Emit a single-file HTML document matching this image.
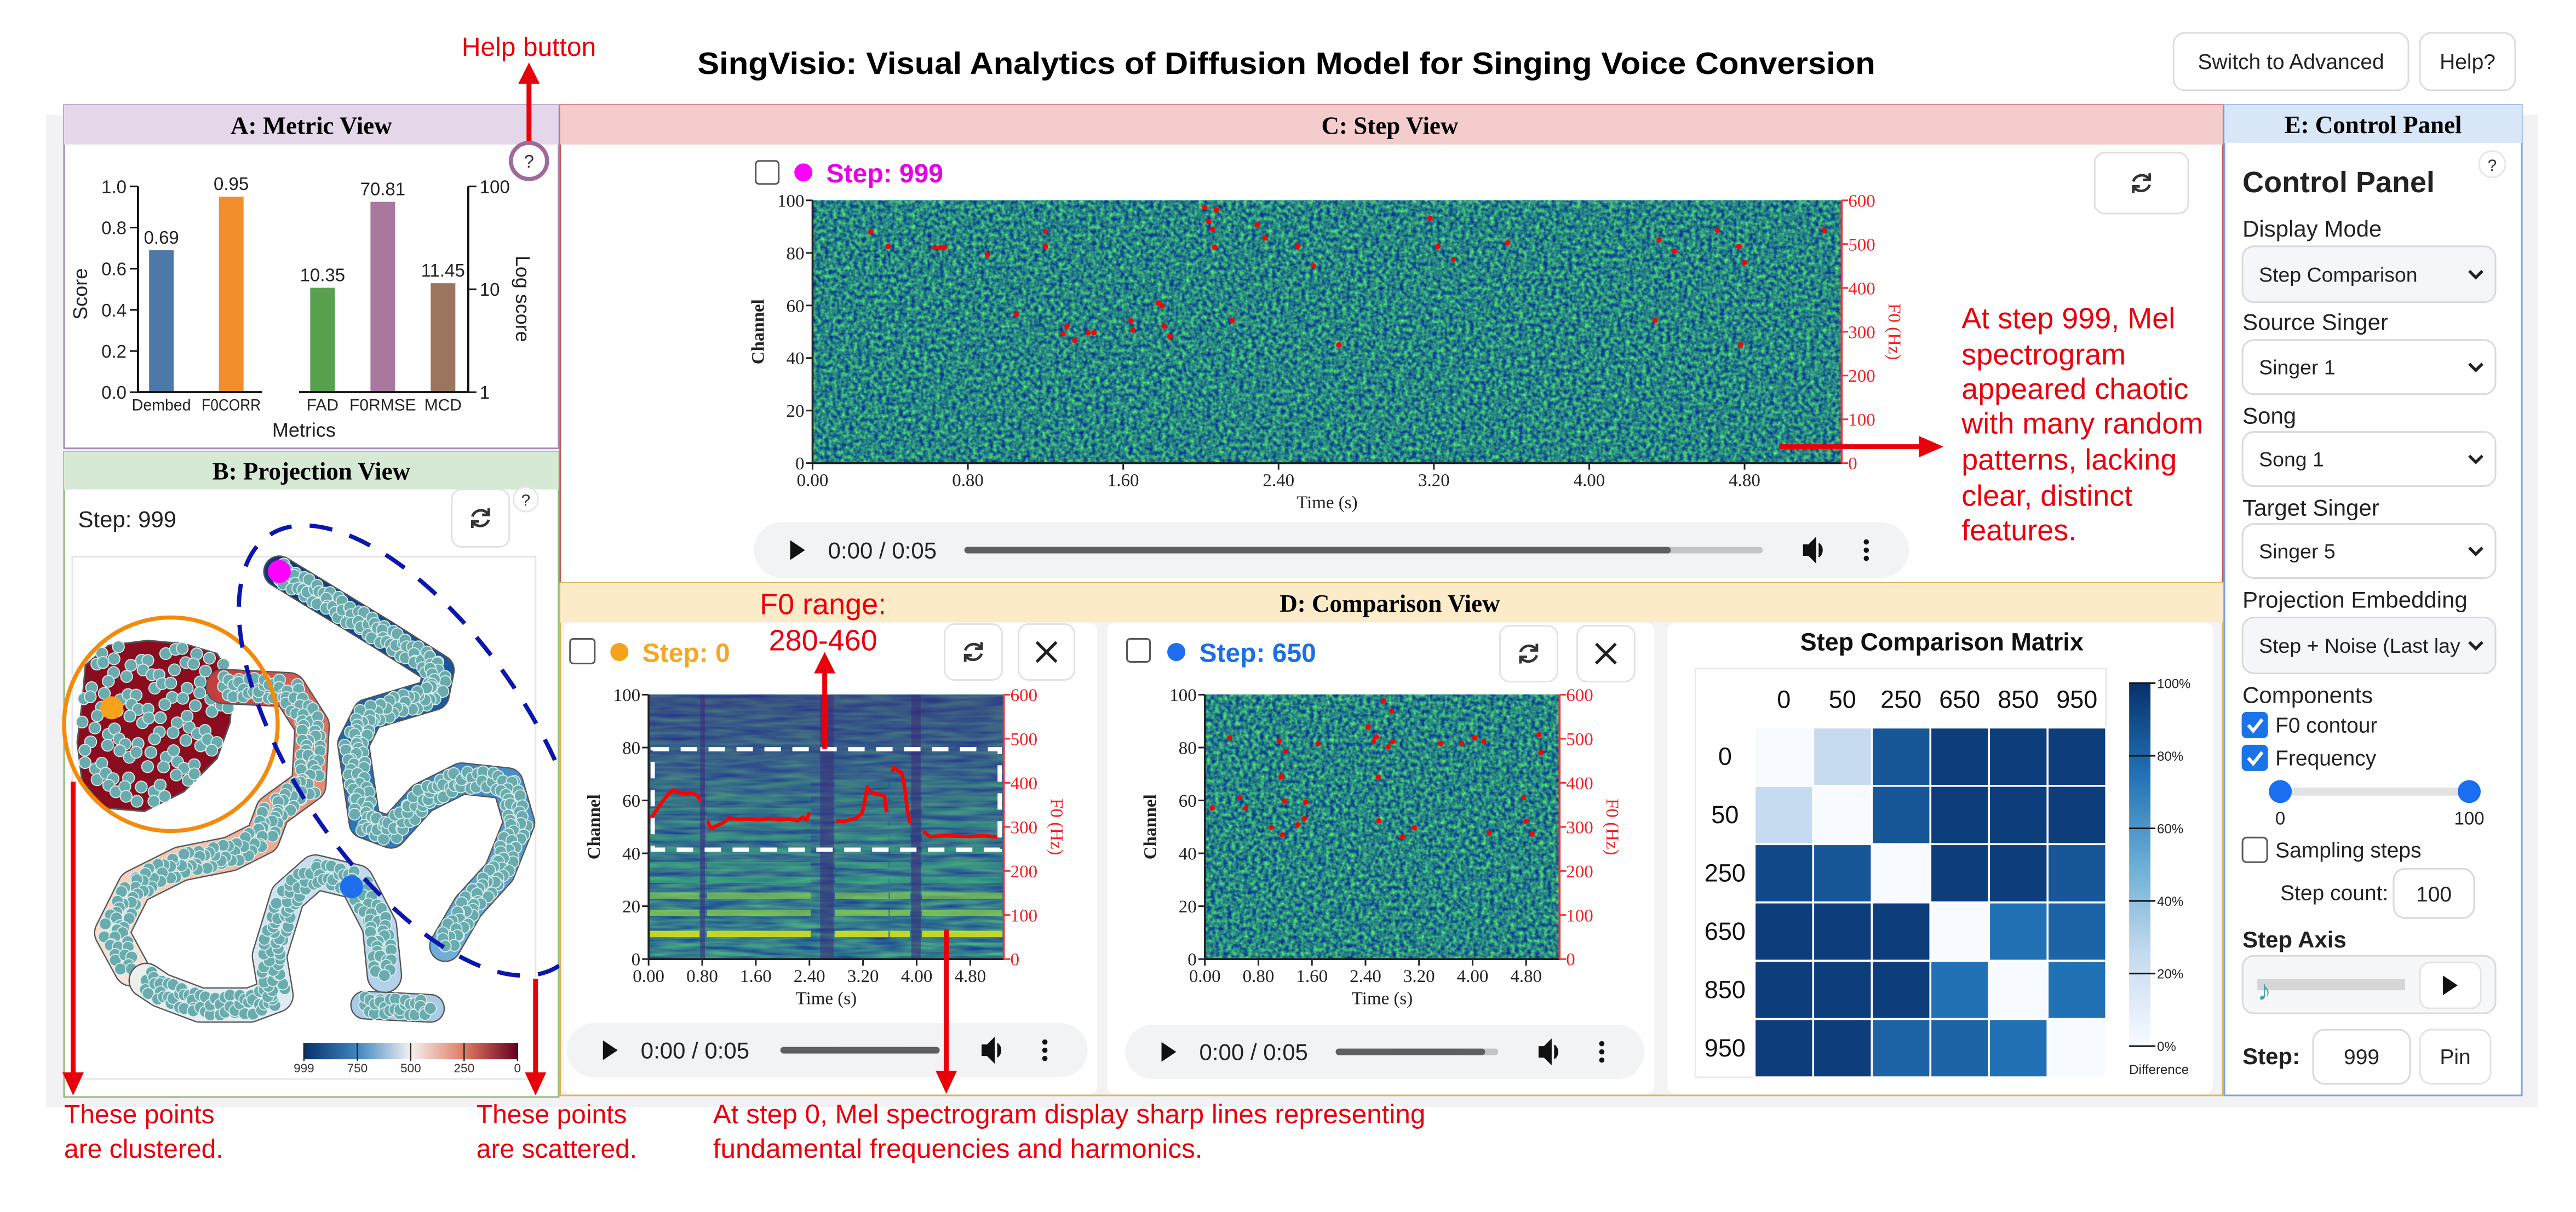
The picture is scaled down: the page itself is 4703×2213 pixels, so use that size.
<!DOCTYPE html>
<html><head><meta charset="utf-8"><title>SingVisio</title>
<style>
html,body{margin:0;padding:0;background:#fff;}
svg{display:block;}
text{font-family:"Liberation Sans",Arial,sans-serif;}
.serif{font-family:"Liberation Serif","Times New Roman",serif;}
</style></head>
<body>
<svg id="root" xmlns="http://www.w3.org/2000/svg" width="4703" height="2213" viewBox="0 0 1568 738" preserveAspectRatio="none">
<defs>
<filter id="noise" x="0" y="0" width="1" height="1" color-interpolation-filters="sRGB">
<feTurbulence type="fractalNoise" baseFrequency="0.4" numOctaves="2" seed="3" result="t"/>
<feColorMatrix in="t" type="matrix" values="0.55 0 0 0 -0.12  1.15 0 0 0 -0.05  -0.25 0 0 0 0.64  0 0 0 0 1"/>
</filter>
<filter id="noise3" x="0" y="0" width="1" height="1" color-interpolation-filters="sRGB">
<feTurbulence type="fractalNoise" baseFrequency="0.04 0.35" numOctaves="2" seed="5" result="t"/>
<feColorMatrix in="t" type="matrix" values="0.35 0 0 0 0.02  0.7 0 0 0 0.15  -0.1 0 0 0 0.6  0 0 0 0 1"/>
</filter>
<linearGradient id="projbar" x1="0" x2="1" y1="0" y2="0">
<stop offset="0" stop-color="#08306b"/><stop offset="0.25" stop-color="#3f86c0"/><stop offset="0.5" stop-color="#f3f1f0"/><stop offset="0.75" stop-color="#e07b62"/><stop offset="1" stop-color="#67001f"/>
</linearGradient>
<linearGradient id="matbar" x1="0" x2="0" y1="1" y2="0">
<stop offset="0" stop-color="#f7fbff"/><stop offset="0.25" stop-color="#c6dbef"/><stop offset="0.5" stop-color="#6baed6"/><stop offset="0.75" stop-color="#2171b5"/><stop offset="1" stop-color="#08306b"/>
</linearGradient>
<linearGradient id="topshade" x1="0" x2="0" y1="0" y2="1">
<stop offset="0" stop-color="#3d2c7a" stop-opacity="0.55"/><stop offset="0.5" stop-color="#3d3f8a" stop-opacity="0.3"/><stop offset="1" stop-color="#3d3f8a" stop-opacity="0.05"/>
</linearGradient>
</defs>

<rect x="28" y="70" width="1517" height="604" fill="#f2f2f5"/>

<text x="783" y="45" text-anchor="middle" font-size="19" font-weight="bold" textLength="717" lengthAdjust="spacingAndGlyphs">SingVisio: Visual Analytics of Diffusion Model for Singing Voice Conversion</text>

<g>
<rect x="1323" y="20" width="143" height="35" rx="7" fill="#fff" stroke="#dcdcdc"/>
<text x="1394.5" y="42" text-anchor="middle" font-size="13" fill="#222">Switch to Advanced</text>
</g>
<g>
<rect x="1473" y="20" width="58" height="35" rx="7" fill="#fff" stroke="#dcdcdc"/>
<text x="1502" y="42" text-anchor="middle" font-size="13" fill="#222">Help?</text>
</g>

<g>
<rect x="39" y="64" width="301" height="209" fill="#fff" stroke="#a38bb6"/>
<rect x="39" y="64" width="301" height="24" fill="#e4d7ea"/>
<text class="serif" x="189.5" y="81.5" text-anchor="middle" font-size="15" font-weight="bold">A: Metric View</text>
</g>
<g id="metricChart"></g>

<g>
<rect x="39" y="275" width="301" height="393" fill="#fff" stroke="#93b87f"/>
<rect x="39" y="275" width="301" height="23" fill="#d6e9d4"/>
<text class="serif" x="189.5" y="292" text-anchor="middle" font-size="15" font-weight="bold">B: Projection View</text>
<text x="47.5" y="321" font-size="14" fill="#222">Step: 999</text>
<rect x="44" y="339" width="282" height="318" fill="#fff" stroke="#e6e6e6"/>
</g>
<g>
<rect x="275" y="298" width="35" height="35" rx="6" fill="#fff" stroke="#e2e2e2"/>
<g transform="translate(292.5,315.5)" fill="none" stroke="#333" stroke-width="1.6"><path d="M-5,-1 A5.5,5.5 0 0 1 5,-2"/><path d="M5,1 A5.5,5.5 0 0 1 -5,2"/><path d="M5,-6 L5,-2 L1,-2"/><path d="M-5,6 L-5,2 L-1,2"/></g>
</g>
<g><circle cx="320" cy="304" r="7.5" fill="#fff" stroke="#e6e6e6"/><text x="320" y="308" text-anchor="middle" font-size="10" fill="#333">?</text></g>
<g id="projection"></g>

<g>
<rect x="341" y="64" width="1012" height="291" fill="#fff" stroke="#c45b5b"/>
<rect x="341" y="64" width="1012" height="24" fill="#f5cccc"/>
<text class="serif" x="846" y="81.5" text-anchor="middle" font-size="15" font-weight="bold">C: Step View</text>
</g>
<rect x="460" y="98" width="14" height="14" rx="2" fill="#fff" stroke="#555"/>
<circle cx="489" cy="105" r="5.5" fill="#f0f"/>
<text x="503" y="111" font-size="16" font-weight="bold" fill="#e600e6">Step: 999</text>
<g>
<rect x="1275" y="93" width="57" height="37" rx="6" fill="#fff" stroke="#dedede"/>
<g transform="translate(1303.5,111.5)" fill="none" stroke="#333" stroke-width="1.6"><path d="M-5,-1 A5.5,5.5 0 0 1 5,-2"/><path d="M5,1 A5.5,5.5 0 0 1 -5,2"/><path d="M5,-6 L5,-2 L1,-2"/><path d="M-5,6 L-5,2 L-1,2"/></g>
</g>
<g id="specC"></g>
<g id="audioC"></g>

<g>
<rect x="341" y="355" width="1012" height="312" fill="#f3f3f6" stroke="#d6b85a"/>
<rect x="341" y="355" width="1012" height="24" fill="#fcebc9"/>
<text class="serif" x="846" y="372.5" text-anchor="middle" font-size="15" font-weight="bold">D: Comparison View</text>
<rect x="343" y="379" width="325" height="287" rx="5" fill="#fff"/>
<rect x="674" y="379" width="333" height="287" rx="5" fill="#fff"/>
<rect x="1015" y="379" width="332" height="287" rx="5" fill="#fff"/>
</g>
<rect x="347" y="389" width="15" height="15" rx="2" fill="#fff" stroke="#555"/>
<circle cx="377" cy="397" r="5.5" fill="#f5a21b"/>
<text x="391" y="403" font-size="16" font-weight="bold" fill="#f5a623">Step: 0</text>
<g>
<rect x="575" y="380" width="35" height="34" rx="6" fill="#fff" stroke="#e2e2e2"/>
<g transform="translate(592.5,397)" fill="none" stroke="#333" stroke-width="1.6"><path d="M-5,-1 A5.5,5.5 0 0 1 5,-2"/><path d="M5,1 A5.5,5.5 0 0 1 -5,2"/><path d="M5,-6 L5,-2 L1,-2"/><path d="M-5,6 L-5,2 L-1,2"/></g>
</g>
<g>
<rect x="620" y="380" width="34" height="34" rx="6" fill="#fff" stroke="#e2e2e2"/>
<path d="M631,391 L643,403 M643,391 L631,403" stroke="#222" stroke-width="1.8"/>
</g>
<rect x="686" y="389" width="14" height="14" rx="2" fill="#fff" stroke="#555"/>
<circle cx="716" cy="397" r="5.5" fill="#1e6ff0"/>
<text x="730" y="403" font-size="16" font-weight="bold" fill="#1a6fe8">Step: 650</text>
<g>
<rect x="913" y="381" width="35" height="34" rx="6" fill="#fff" stroke="#e2e2e2"/>
<g transform="translate(930.5,398)" fill="none" stroke="#333" stroke-width="1.6"><path d="M-5,-1 A5.5,5.5 0 0 1 5,-2"/><path d="M5,1 A5.5,5.5 0 0 1 -5,2"/><path d="M5,-6 L5,-2 L1,-2"/><path d="M-5,6 L-5,2 L-1,2"/></g>
</g>
<g>
<rect x="960" y="381" width="35" height="34" rx="6" fill="#fff" stroke="#e2e2e2"/>
<path d="M971.5,392 L983.5,404 M983.5,392 L971.5,404" stroke="#222" stroke-width="1.8"/>
</g>
<g id="specD1"></g>
<g id="specD2"></g>
<g id="audioD1"></g><g id="audioD2"></g>
<text x="1182" y="396" text-anchor="middle" font-size="15" font-weight="bold" fill="#111">Step Comparison Matrix</text>
<g id="matrix"></g>

<g>
<rect x="1354" y="64" width="181" height="603" fill="#fff" stroke="#7ea3d6"/>
<rect x="1354" y="64" width="181" height="23" fill="#d8e7f8"/>
<text class="serif" x="1444.5" y="81" text-anchor="middle" font-size="15" font-weight="bold">E: Control Panel</text>
<text x="1365" y="117" font-size="18" font-weight="bold" fill="#222">Control Panel</text>
</g>
<g><circle cx="1517" cy="100" r="8" fill="#fff" stroke="#e6e6e6"/><text x="1517" y="104" text-anchor="middle" font-size="10" fill="#333">?</text></g>
<g id="controls"></g>

<g fill="#e8000b">
<text x="281" y="34" font-size="16">Help button</text>
<circle cx="322" cy="98" r="11" fill="none" stroke="#a0699a" stroke-width="2.5"/>
<text x="322" y="102" text-anchor="middle" font-size="11" fill="#333">?</text>
<line x1="322" y1="86" x2="322" y2="48" stroke="#e8000b" stroke-width="3"/>
<polygon points="315.5,51 328.5,51 322,38"/>
<text x="1194" y="200" font-size="18"><tspan x="1194" y="200">At step 999, Mel</tspan><tspan x="1194" y="222">spectrogram</tspan><tspan x="1194" y="243">appeared chaotic</tspan><tspan x="1194" y="264">with many random</tspan><tspan x="1194" y="286">patterns, lacking</tspan><tspan x="1194" y="308">clear, distinct</tspan><tspan x="1194" y="329">features.</tspan></text>
<line x1="1083" y1="272" x2="1170" y2="272" stroke="#e8000b" stroke-width="3"/>
<polygon points="1168,265.5 1168,278.5 1183,272"/>
<text x="501" y="374" text-anchor="middle" font-size="18"><tspan x="501" y="374">F0 range:</tspan><tspan x="501" y="396">280-460</tspan></text>
<line x1="502" y1="456" x2="502" y2="408" stroke="#e8000b" stroke-width="3"/>
<polygon points="495.5,410 508.5,410 502,397"/>
<line x1="576" y1="566" x2="576" y2="654" stroke="#e8000b" stroke-width="3"/>
<polygon points="569.5,652 582.5,652 576,666"/>
<line x1="44.5" y1="476" x2="44.5" y2="655" stroke="#e8000b" stroke-width="3"/>
<polygon points="38,653 51,653 44.5,667"/>
<line x1="326" y1="596" x2="326" y2="655" stroke="#e8000b" stroke-width="3"/>
<polygon points="319.5,653 332.5,653 326,667"/>
<text font-size="16"><tspan x="39" y="684">These points</tspan><tspan x="39" y="705">are clustered.</tspan></text>
<text font-size="16"><tspan x="290" y="684">These points</tspan><tspan x="290" y="705">are scattered.</tspan></text>
<text font-size="16.5"><tspan x="434" y="684">At step 0, Mel spectrogram display sharp lines representing</tspan><tspan x="434" y="705">fundamental frequencies and harmonics.</tspan></text>
</g>
</svg>

<script>
const NS='http://www.w3.org/2000/svg';
function mk(tag,attrs,parent){const e=document.createElementNS(NS,tag);for(const k in attrs)e.setAttribute(k,attrs[k]);if(parent)parent.appendChild(e);return e;}
function txt(s,attrs,parent){const e=mk('text',attrs,parent);e.textContent=s;return e;}

const metricLeftCats=['Dembed','F0CORR'];
const metricLeftVals=[0.69,0.95];
const metricRightCats=['FAD','F0RMSE','MCD'];
const metricRightVals=[10.35,70.81,11.45];
const metricLeftTicks=[0,0.2,0.4,0.6,0.8,1.0];
const metricRightTicks=[1,10,100];

const specTimeTicks=[0,0.8,1.6,2.4,3.2,4.0,4.8];
const specChannelTicks=[0,20,40,60,80,100];
const specHzTicks=[0,100,200,300,400,500,600];
const f0Step999T=[0.30,0.39,0.63,0.66,0.68,0.90,1.05,1.20,1.20,1.29,1.31,1.35,1.42,1.45,1.64,1.65,1.78,1.80,1.81,1.84,2.02,2.04,2.06,2.07,2.08,2.16,2.29,2.33,2.50,2.58,2.71,3.18,3.22,3.30,3.58,4.34,4.36,4.44,4.66,4.77,4.78,4.80,5.21];
const f0Step999Hz=[528,495,492,492,492,476,340,529,495,295,312,280,298,298,325,304,366,359,313,289,584,552,534,493,578,326,544,514,495,450,270,559,495,465,503,326,510,484,532,495,270,458,532];
const f0Step650T=[0.11,0.37,0.52,0.61,0.99,1.11,1.14,1.16,1.19,1.21,1.39,1.49,1.51,1.69,2.44,2.52,2.56,2.59,2.60,2.67,2.74,2.79,2.81,2.95,3.13,3.52,3.84,4.03,4.17,4.25,4.76,4.80,4.89,4.99,5.02];
const f0Step650Hz=[343,502,366,343,299,495,414,282,359,471,305,319,356,489,527,493,504,413,314,586,482,563,494,277,298,489,489,502,493,286,366,313,284,509,469];
const f0Step0SegA_T=[0.03,0.08,0.15,0.22,0.30,0.37,0.45,0.55,0.65,0.72,0.78];
const f0Step0SegA_Hz=[317,330,345,360,375,384,378,375,376,372,359];
const f0Step0SegB_T=[0.88,0.93,0.98,1.05,1.12,1.20,1.35,1.50,1.65,1.80,1.95,2.10,2.22,2.30,2.36,2.40];
const f0Step0SegB_Hz=[314,296,300,305,310,320,317,318,316,319,316,318,314,322,316,333];
const f0Step0SegC_T=[2.80,2.90,3.00,3.10,3.18,3.22,3.26,3.32,3.40,3.46,3.52,3.55];
const f0Step0SegC_Hz=[314,312,316,320,330,352,390,378,375,373,371,333];
const f0Step0SegD_T=[3.63,3.66,3.72,3.78,3.82,3.86,3.90];
const f0Step0SegD_Hz=[425,435,428,422,390,340,308];
const f0Step0SegE_T=[4.10,4.20,4.40,4.60,4.80,5.00,5.20];
const f0Step0SegE_Hz=[289,278,280,279,278,280,277];
const harmonicChannels=[9.5,17.5,24,30,35.5,41,46,51,56,61,66];
const harmonicStrength=[0.9,0.7,0.6,0.5,0.45,0.4,0.35,0.3,0.28,0.25,0.2];
const voicedStart=[0.02,0.87,2.78,3.60,4.08];
const voicedEnd=[0.76,2.42,3.58,3.90,5.28];
const unvoicedStart=[0.77,2.56,3.92];
const unvoicedEnd=[0.84,2.76,4.06];

const matrixSteps=['0','50','250','650','850','950'];
const matrixRow0=[0,25,85,95,95,95];
const matrixRow50=[25,0,85,95,95,95];
const matrixRow250=[90,85,0,95,95,85];
const matrixRow650=[95,95,95,0,75,80];
const matrixRow850=[95,95,95,75,0,75];
const matrixRow950=[95,95,80,80,75,0];
const matrixTicks=[0,20,40,60,80,100];

(function(){
 const g=document.getElementById('metricChart');
 const y0=238.8,y1=113.5;
 const yL=v=>y0-(y0-y1)*v;
 const yR=v=>y0-(y0-y1)*Math.log10(v)/2;
 const bandL=i=>77+(162-77)/metricLeftCats.length*(i+0.5);
 const bandR=i=>178+(288-178)/metricRightCats.length*(i+0.5);
 const colL=['#4e79a7','#f28e2b'];
 const colR=['#59a14f','#a8789f','#9c755f'];
 const bw=15;
 metricLeftVals.forEach((v,i)=>{
  const r=mk('rect',{x:bandL(i)-bw/2,y:yL(v),width:bw,height:y0-yL(v),fill:colL[i]},g);
  
  
  const t=txt(v.toFixed(2),{x:bandL(i),y:yL(v)-4,'text-anchor':'middle','font-size':11,fill:'#222'},g);
  
  
  const c=txt(metricLeftCats[i],{x:bandL(i),y:250,'text-anchor':'middle','font-size':10,fill:'#222',textLength:36,lengthAdjust:'spacingAndGlyphs'},g);
  
  
 });
 metricRightVals.forEach((v,i)=>{
  const r=mk('rect',{x:bandR(i)-bw/2,y:yR(v),width:bw,height:y0-yR(v),fill:colR[i]},g);
  
  
  const t=txt(v.toFixed(2),{x:bandR(i),y:yR(v)-4,'text-anchor':'middle','font-size':11,fill:'#222'},g);
  
  
  const c=txt(metricRightCats[i],{x:bandR(i),y:250,'text-anchor':'middle','font-size':10,fill:'#222'},g);
  
  
 });
 const ax=mk('path',{d:`M84,${y1} L84,${y0} L159.5,${y0} M182,${y0} L285,${y0} L285,${y1}`,fill:'none',stroke:'#111','stroke-width':1.3},g);
 
 
 metricLeftTicks.forEach(v=>{
  mk('line',{x1:79,x2:84,y1:yL(v),y2:yL(v),stroke:'#111'},g);
  const t=txt(v.toFixed(1),{x:77,y:yL(v)+4,'text-anchor':'end','font-size':11,fill:'#222'},g);
  
  
 });
 metricRightTicks.forEach(v=>{
  mk('line',{x1:285,x2:290,y1:yR(v),y2:yR(v),stroke:'#111'},g);
  const t=txt(String(v),{x:292,y:yR(v)+4,'font-size':11,fill:'#222'},g);
  
  
 });
 const s=txt('Score',{x:0,y:0,'text-anchor':'middle','font-size':12,fill:'#222',transform:'translate(53,179) rotate(-90)'},g);
 
 
 const l=txt('Log score',{x:0,y:0,'text-anchor':'middle','font-size':12,fill:'#222',transform:'translate(314,182) rotate(90)'},g);
 
 
 const m=txt('Metrics',{x:185,y:266,'text-anchor':'middle','font-size':12,fill:'#222'},g);
 
 
})();

(function(){
 const g=document.getElementById('projection');
 function lerpC(a,b,t){const pa=[1,3,5].map(i=>parseInt(a.substr(i,2),16)),pb=[1,3,5].map(i=>parseInt(b.substr(i,2),16));return 'rgb('+pa.map((v,i)=>Math.round(v+(pb[i]-v)*t)).join(',')+')';}
 function colAt(cols,t){const n=cols.length-1;const i=Math.min(n-1,Math.floor(t*n));return lerpC(cols[i],cols[i+1],t*n-i);}
 function pt(sg,x,y){
  const c=mk('circle',{cx:x,cy:y,r:3.6,fill:'#6aabad',stroke:'#d9eeee','stroke-width':0.6},sg);
  
  
 }
 function snake(pts,cols,w,name){
  const sg=mk('g',{},g);
  
  
  const d='M'+pts.map(p=>p.join(',')).join(' L');
  mk('path',{d:d,fill:'none',stroke:'#555','stroke-width':w+1.6,'stroke-linecap':'round','stroke-linejoin':'round'},sg);
  let samples=[];
  for(let i=0;i<pts.length-1;i++){const [x0,y0]=pts[i],[x1,y1]=pts[i+1];const L=Math.hypot(x1-x0,y1-y0);const n=Math.max(1,Math.round(L/3));for(let k=0;k<n;k++){samples.push([x0+(x1-x0)*k/n,y0+(y1-y0)*k/n,(y1-y0)/L,-(x1-x0)/L]);}}
  samples.push([...pts[pts.length-1],0,0]);
  for(let i=0;i<samples.length-1;i++){const t=i/(samples.length-1);
   mk('line',{x1:samples[i][0],y1:samples[i][1],x2:samples[i+1][0],y2:samples[i+1][1],stroke:colAt(cols,t),'stroke-width':w,'stroke-linecap':'round'},sg);}
  samples.forEach((s,k)=>{for(let j=0;j<2;j++){const off=w*0.3*Math.sin(k*2.399+j*1.7);pt(sg,s[0]+s[2]*off,s[1]+s[3]*off);}});
 }
 // dark red filled blob
 const blobPts=[[52,405],[66,393],[90,390],[112,392],[132,398],[142,414],[140,440],[132,462],[112,482],[88,494],[64,492],[50,476],[47,452],[50,428]];
 const bg=mk('g',{},g);
 
 
 mk('path',{d:'M'+blobPts.map(p=>p.join(',')).join(' L')+'Z',fill:'#8a0c1e',stroke:'#555','stroke-width':1,'stroke-linejoin':'round'},bg);
 function inside(x,y){let c=false;for(let i=0,j=blobPts.length-1;i<blobPts.length;j=i++){const [xi,yi]=blobPts[i],[xj,yj]=blobPts[j];if(((yi>y)!=(yj>y))&&(x<(xj-xi)*(y-yi)/(yj-yi)+xi))c=!c;}return c;}
 let k=0;
 for(let y=396;y<492;y+=7){for(let x=50;x<142;x+=7){k++;const jx=x+2.2*Math.sin(k*1.7),jy=y+2.2*Math.cos(k*2.3);if(inside(jx,jy)&&Math.sin(k*0.77)>-0.6)pt(bg,jx,jy);}}
 snake([[136,418],[176,420],[190,442],[188,478],[166,494],[160,510],[140,520],[110,526],[82,540],[68,568],[80,590]],['#c23d3f','#e5846b','#f6c2ab','#f8e4da'],20,'cluster-mid-steps-region');
 snake([[89,597],[98,603],[122,612],[152,612],[168,606],[164,582],[175,546],[192,531],[217,537],[231,564],[234,594]],['#eeeeee','#e2ebf3','#c9ddee','#b2d1e9'],20,'cluster-step-650-region');
 snake([[222,612],[262,614]],['#a9cbe6','#a9cbe6'],16,'cluster-small-region');
 snake([[170,348],[234,387],[267,408],[264,423],[224,435],[215,453],[222,501],[238,507],[257,486],[281,474],[309,477],[316,501],[304,531],[285,552],[271,576]],['#0b3a74','#1d5fa5','#3a84c2','#70afd9'],18,'cluster-step-999-region');
 const add=(tag,a,name,inter)=>{const e=mk(tag,a,g);return e;};
 add('circle',{cx:104,cy:441,r:65,fill:'none',stroke:'#f58a0a','stroke-width':2.5},'clustered-highlight-circle','false');
 add('ellipse',{cx:252,cy:457,rx:158,ry:72,transform:'rotate(56 252 457)',fill:'none',stroke:'#0b16b0','stroke-width':2.6,'stroke-dasharray':'14 11'},'scattered-highlight-ellipse','false');
 add('circle',{cx:68,cy:431,r:7,fill:'#f7a21b'},'step-0-marker','false');
 add('circle',{cx:170,cy:348,r:7,fill:'#f0f'},'step-999-marker','false');
 add('circle',{cx:214,cy:540,r:7,fill:'#1e6ff0'},'step-650-marker','false');
 add('rect',{x:185,y:635,width:130,height:10,fill:'url(#projbar)'},'projection-colorbar','false');
 const cbLabels=['999','750','500','250','0'];
 cbLabels.forEach((s,i)=>{const x=185+130*i/4;
  mk('line',{x1:x,x2:x,y1:635,y2:646,stroke:'#222','stroke-width':0.8},g);
  const t=txt(s,{x:x,y:653,'text-anchor':'middle','font-size':7.5,fill:'#333'},g);
  
  });
})();

function spectro(id,x0,x1,y0,y1,filterId,opts){
 const g=document.getElementById(id);
 const X=t=>x0+(x1-x0)*t/5.3;
 const YC=c=>y1-(y1-y0)*c/100;
 const YH=h=>y1-(y1-y0)*h/600;
 const bg=mk('rect',{x:x0,y:y0,width:x1-x0,height:y1-y0,filter:'url(#'+filterId+')'},g);
 
 
 if(opts.harmonic){
  mk('rect',{x:x0,y:y0,width:x1-x0,height:y1-y0,fill:'url(#topshade)'},g);
  voicedStart.forEach((ts,i)=>{
   harmonicChannels.forEach((c,j)=>{
    const col=j===0?'#d0e11c':(j<3?'#8fd744':'#3cbb75');
    const r=mk('rect',{x:X(ts),y:YC(c+1.2),width:X(voicedEnd[i])-X(ts),height:(y1-y0)*2.4/100,fill:col,opacity:harmonicStrength[j]},g);
    
    
   });
  });
  unvoicedStart.forEach((ts,i)=>{
   const r=mk('rect',{x:X(ts),y:y0,width:X(unvoicedEnd[i])-X(ts),height:y1-y0,fill:'#3a2a78',opacity:0.55},g);
   
   
  });
 }
 if(opts.lines){
  opts.lines.forEach(([T,H])=>{
   const p=mk('polyline',{points:T.map((t,i)=>X(t)+','+YH(H[i])).join(' '),fill:'none',stroke:'#f00','stroke-width':2.2,'stroke-linejoin':'round'},g);
   
   
  });
 }
 if(opts.dots){
  opts.dots[0].forEach((t,i)=>{
   const c=mk('circle',{cx:X(t),cy:YH(opts.dots[1][i]),r:1.6,fill:'#f00'},g);
   
   
  });
 }
 if(opts.box){
  const b=mk('rect',{x:x0+2.5,y:YC(80)+1,width:x1-x0-5,height:YC(42)-YC(80),fill:'none',stroke:'#fff','stroke-width':2.6,'stroke-dasharray':'10 7'},g);
  
  
 }
 const fs=opts.fs;
 mk('line',{x1:x0,x2:x0,y1:y0,y2:y1,stroke:'#222','stroke-width':1.2},g);
 mk('line',{x1:x0,x2:x1,y1:y1,y2:y1,stroke:'#222','stroke-width':1.2},g);
 mk('line',{x1:x1,x2:x1,y1:y0,y2:y1,stroke:'#e33','stroke-width':1.2},g);
 specTimeTicks.forEach(t=>{
  mk('line',{x1:X(t),x2:X(t),y1:y1,y2:y1+4,stroke:'#222'},g);
  const l=txt(t.toFixed(2),{x:X(t),y:y1+fs+3,'text-anchor':'middle','font-size':fs,fill:'#222',class:'serif'},g);
  
  
 });
 specChannelTicks.forEach(c=>{
  mk('line',{x1:x0-4,x2:x0,y1:YC(c),y2:YC(c),stroke:'#222'},g);
  const l=txt(String(c),{x:x0-5,y:YC(c)+fs*0.35,'text-anchor':'end','font-size':fs,fill:'#222',class:'serif'},g);
  
  
 });
 specHzTicks.forEach(h=>{
  mk('line',{x1:x1,x2:x1+4,y1:YH(h),y2:YH(h),stroke:'#e33'},g);
  const l=txt(String(h),{x:x1+4,y:YH(h)+fs*0.35,'font-size':fs,fill:'#e22',class:'serif'},g);
  
  
 });
 const a=txt('Channel',{x:0,y:0,'text-anchor':'middle','font-size':fs,fill:'#222',class:'serif','font-weight':'bold',transform:`translate(${x0-fs*2.7},${(y0+y1)/2}) rotate(-90)`},g);
 
 
 const b=txt('F0 (Hz)',{x:0,y:0,'text-anchor':'middle','font-size':fs,fill:'#e22',class:'serif',transform:`translate(${x1+fs*2.6},${(y0+y1)/2}) rotate(90)`},g);
 
 
 const c=txt('Time (s)',{x:(x0+x1)/2,y:y1+fs*2.5,'text-anchor':'middle','font-size':fs,fill:'#222',class:'serif'},g);
 
 
}
spectro('specC',494.6,1121,122,282,'noise',{fs:11,dots:[f0Step999T,f0Step999Hz]});
spectro('specD1',394.8,611,423,584,'noise3',{fs:11,harmonic:true,box:true,lines:[[f0Step0SegA_T,f0Step0SegA_Hz],[f0Step0SegB_T,f0Step0SegB_Hz],[f0Step0SegC_T,f0Step0SegC_Hz],[f0Step0SegD_T,f0Step0SegD_Hz],[f0Step0SegE_T,f0Step0SegE_Hz]]});
spectro('specD2',733.4,949.3,423,584,'noise',{fs:11,dots:[f0Step650T,f0Step650Hz]});

function audio(id,name,x,y,w,h,tx0,tx1,tf,vx,dx){
 const g=document.getElementById(id);
 
 
 mk('rect',{x:x,y:y,width:w,height:h,rx:h/2,fill:'#f1f3f4'},g);
 const p=mk('polygon',{points:`${x+22},${y+h/2-6} ${x+22},${y+h/2+6} ${x+31},${y+h/2}`,fill:'#111'},g);
 
 
 const t=txt('0:00 / 0:05',{x:x+45,y:y+h/2+5,'font-size':14,fill:'#222'},g);
 
 
 mk('line',{x1:tx0,x2:tx1,y1:y+h/2,y2:y+h/2,stroke:'#c4c4c4','stroke-width':4,'stroke-linecap':'round'},g);
 const s=mk('line',{x1:tx0,x2:tf,y1:y+h/2,y2:y+h/2,stroke:'#5f5f5f','stroke-width':4,'stroke-linecap':'round'},g);
 
 
 const v=mk('path',{d:`M${vx-6},${y+h/2-3} h3 l4,-4 v14 l-4,-4 h-3 z M${vx+3},${y+h/2-4} a5,5 0 0 1 0,8`,fill:'#111',stroke:'#111','stroke-width':1},g);
 
 
 [-5,0,5].forEach(o=>mk('circle',{cx:dx,cy:y+h/2+o,r:1.6,fill:'#111'},g));
}
audio('audioC','step-999-audio-player',459,318,703,34,589,1071,1015,1104,1136);
audio('audioD1','step-0-audio-player',345,623,317,33,477,570,570,604,636);
audio('audioD2','step-650-audio-player',685,624,316,33,815,910,902,943,975);

(function(){
 const g=document.getElementById('matrix');
 const rows=[matrixRow0,matrixRow50,matrixRow250,matrixRow650,matrixRow850,matrixRow950];
 const cx=i=>1068+35.67*i, cy=i=>443+35.5*i;
 const cw=35.67,ch=35.5;
 const stops=['#f7fbff','#c6dbef','#6baed6','#2171b5','#08306b'];
 function blues(v){const t=v/100*4;const i=Math.min(3,Math.floor(t));const f=t-i;
  const a=[1,3,5].map(k=>parseInt(stops[i].substr(k,2),16)),b=[1,3,5].map(k=>parseInt(stops[i+1].substr(k,2),16));
  return 'rgb('+a.map((x,k)=>Math.round(x+(b[k]-x)*f)).join(',')+')';}
 mk('rect',{x:1032,y:407,width:250,height:249,fill:'#fff',stroke:'#e8e8e8'},g);
 matrixSteps.forEach((s,i)=>{
  const t=txt(s,{x:cx(i)+cw/2,y:431,'text-anchor':'middle','font-size':15,fill:'#111'},g);
  
  
  const r=txt(s,{x:1050,y:cy(i)+ch/2+5,'text-anchor':'middle','font-size':15,fill:'#111'},g);
  
  
 });
 rows.forEach((row,i)=>row.forEach((v,j)=>{
  const c=mk('rect',{x:cx(j),y:cy(i),width:cw,height:ch,fill:blues(v),stroke:'#fff','stroke-width':1.2},g);
  
  
 }));
 const cb=mk('rect',{x:1296,y:416,width:13,height:221,fill:'url(#matbar)'},g);
 
 
 matrixTicks.forEach(v=>{const y=637-221*v/100;
  mk('line',{x1:1296,x2:1312,y1:y,y2:y,stroke:'#111','stroke-width':1},g);
  const t=txt(v+'%',{x:1313,y:y+3,'font-size':8,fill:'#222'},g);
  
  });
 const d=txt('Difference',{x:1296,y:654,'font-size':8,fill:'#222'},g);
 
 
})();

(function(){
 const g=document.getElementById('controls');
 function label(s,y,name){const t=txt(s,{x:1365,y:y+5,'font-size':14,fill:'#222'},g);}
 function select(s,y0,y1,name,bg){const sg=mk('g',{},g);
  mk('rect',{x:1365,y:y0,width:154,height:y1-y0,rx:7,fill:bg||'#fff',stroke:'#d9d9d9'},sg);
  txt(s,{x:1375,y:(y0+y1)/2+4.5,'font-size':12.5,fill:'#222'},sg);
  mk('path',{d:`M${1503},${(y0+y1)/2-2} l4,4 l4,-4`,fill:'none',stroke:'#222','stroke-width':1.8},sg);}
 label('Display Mode',139,'display-mode-label');
 select('Step Comparison',150,184,'display-mode-select','#f4f6fa');
 label('Source Singer',196,'source-singer-label');
 select('Singer 1',207,240,'source-singer-select');
 label('Song',253,'song-label');
 select('Song 1',263,296,'song-select');
 label('Target Singer',309,'target-singer-label');
 select('Singer 5',319,352,'target-singer-select');
 label('Projection Embedding',365,'projection-embedding-label');
 select('Step + Noise (Last lay',376,410,'projection-embedding-select','#f4f6fa');
 label('Components',423,'components-label');
 function check(y,checked,s,name){const cg=mk('g',{},g);
  mk('rect',{x:1365,y:y,width:15,height:15,rx:2.5,fill:checked?'#1a73e8':'#fff',stroke:checked?'#1a73e8':'#555'},cg);
  if(checked)mk('path',{d:`M${1368.5},${y+7.5} l3,3.5 l5.5,-7`,fill:'none',stroke:'#fff','stroke-width':2},cg);
  txt(s,{x:1385,y:y+12,'font-size':13,fill:'#222'},cg);}
 check(434,true,'F0 contour','f0-contour-checkbox');
 check(454,true,'Frequency','frequency-checkbox');
 const sl=mk('g',{},g);
 mk('line',{x1:1388,x2:1503,y1:482,y2:482,stroke:'#e3e3e3','stroke-width':5,'stroke-linecap':'round'},sl);
 mk('circle',{cx:1388,cy:482,r:7,fill:'#1a6ff0'},sl);
 mk('circle',{cx:1503,cy:482,r:7,fill:'#1a6ff0'},sl);
 txt('0',{x:1388,y:502,'text-anchor':'middle','font-size':11,fill:'#222'},sl);
 txt('100',{x:1503,y:502,'text-anchor':'middle','font-size':11,fill:'#222'},sl);
 check(510,false,'Sampling steps','sampling-steps-checkbox');
 const sc=txt('Step count:',{x:1388,y:548,'font-size':13,fill:'#222'},g);
 const si=mk('g',{},g);
 mk('rect',{x:1457,y:529,width:49,height:30,rx:7,fill:'#fff',stroke:'#d9d9d9'},si);
 txt('100',{x:1481.5,y:549,'text-anchor':'middle','font-size':13,fill:'#222'},si);
 const sa=txt('Step Axis',{x:1365,y:577,'font-size':14,'font-weight':'bold',fill:'#222'},g);
 mk('rect',{x:1365,y:582,width:154,height:35,rx:7,fill:'#f6f7f9',stroke:'#d9d9d9'},g);
 const st=mk('rect',{x:1374,y:596,width:90,height:7,fill:'#d6d6d6'},g);
 const note=txt('♪',{x:1374,y:609,'font-size':17,fill:'#4aa3a0'},g);
 const pb=mk('g',{},g);
 mk('rect',{x:1473,y:586,width:37,height:28,rx:6,fill:'#fff',stroke:'#e3e3e3'},pb);
 mk('polygon',{points:'1487,594 1487,606 1496,600',fill:'#111'},pb);
 const sl2=txt('Step:',{x:1365,y:648,'font-size':14,'font-weight':'bold',fill:'#222'},g);
 const sin=mk('g',{},g);
 mk('rect',{x:1408,y:627,width:59,height:33,rx:7,fill:'#fff',stroke:'#d9d9d9'},sin);
 txt('999',{x:1437.5,y:648,'text-anchor':'middle','font-size':13,fill:'#222'},sin);
 const pin=mk('g',{},g);
 mk('rect',{x:1473,y:627,width:43,height:33,rx:7,fill:'#fff',stroke:'#e3e3e3'},pin);
 txt('Pin',{x:1494.5,y:648,'text-anchor':'middle','font-size':13,fill:'#222'},pin);
})();
</script>
</body></html>
